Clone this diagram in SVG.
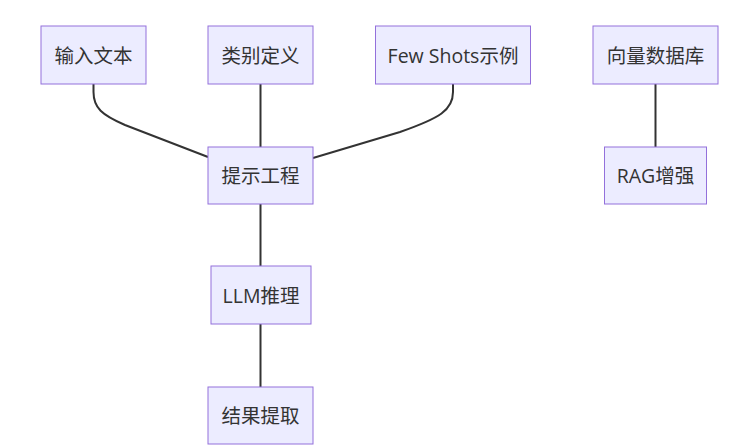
<svg xmlns="http://www.w3.org/2000/svg" width="730" height="446" viewBox="0 0 730 446">
<style>
.node rect{fill:#ECECFF;stroke:#9370DB;stroke-width:1px;}
.node text{font-family:"Open Sans","Noto Sans CJK SC",sans-serif;font-size:19.5px;fill:#333;text-anchor:middle;dominant-baseline:central;}
.edges path{fill:none;stroke:#333;stroke-width:2px;}
</style>
<rect width="730" height="446" fill="#ffffff"/>
<g class="edges">
<path d="M93.5,84 V92 C93.5,108 102,115 125,125 L208,157"/>
<path d="M260.5,84 V147"/>
<path d="M453,84 V92 C453,110 440,118 400,132 L313,158"/>
<path d="M260.5,204 V266"/>
<path d="M260.5,324 V387"/>
<path d="M655.5,84 V147"/>
</g>
<g id="n1" class="node"><rect x="41" y="26" width="105" height="58"/><text x="93.5" y="55">输入文本</text></g>
<g id="n2" class="node"><rect x="208" y="26" width="105" height="58"/><text x="260.5" y="55">类别定义</text></g>
<g id="n3" class="node"><rect x="375.5" y="26" width="155" height="58"/><text x="453" y="55">Few Shots示例</text></g>
<g id="n4" class="node"><rect x="593" y="26" width="125" height="58"/><text x="655.5" y="55">向量数据库</text></g>
<g id="n5" class="node"><rect x="208" y="147" width="105" height="57"/><text x="260.5" y="175.5">提示工程</text></g>
<g id="n6" class="node"><rect x="604.5" y="147" width="102" height="57"/><text x="655.5" y="175.5">RAG增强</text></g>
<g id="n7" class="node"><rect x="211" y="266" width="100" height="58"/><text x="261" y="295">LLM推理</text></g>
<g id="n8" class="node"><rect x="208" y="387" width="105" height="57"/><text x="260.5" y="415.5">结果提取</text></g>
</svg>
